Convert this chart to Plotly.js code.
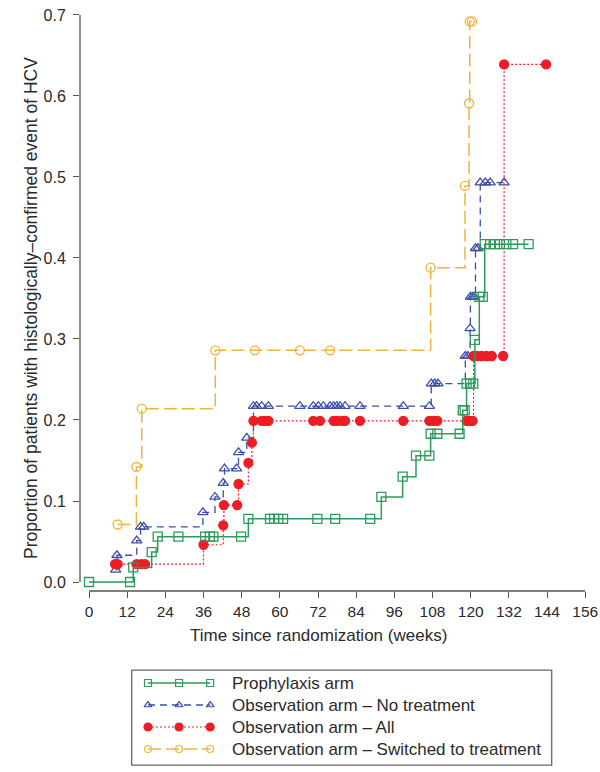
<!DOCTYPE html>
<html>
<head>
<meta charset="utf-8">
<script src="https://cdn.plot.ly/plotly-3.0.1.min.js"></script>
<style>html,body{margin:0;padding:0;background:#fff}</style>
</head>
<body>
<div id="chart" style="width:600px;height:772px"></div>
<script>
// cumulative proportion with histologically-confirmed HCV event, by weeks since randomization
const prophWeeks = [0, 12.9, 13.9, 19.7, 21.6, 28.1, 36.5, 38.0, 39.1, 47.8, 50.1, 56.9, 58.2, 59.5, 61.0,
  71.8, 77.4, 88.4, 91.9, 98.6, 102.8, 107.0, 107.4, 109.5, 116.5, 117.5, 118.1, 118.7, 119.8, 120.8,
  121.3, 122.7, 123.8, 124.4, 126.1, 127.6, 129.2, 131.2, 133.3, 138.2]
const prophProp = [0, 0, 0.018, 0.037, 0.056, 0.056, 0.056, 0.056, 0.056, 0.056, 0.078, 0.078, 0.078, 0.078, 0.078,
  0.078, 0.078, 0.078, 0.105, 0.130, 0.156, 0.156, 0.183, 0.183, 0.183, 0.212, 0.212, 0.245, 0.245, 0.245,
  0.299, 0.352, 0.352, 0.417, 0.417, 0.417, 0.417, 0.417, 0.417, 0.417]

const noTxWeeks = [8.4, 8.8, 15.0, 16.2, 17.2, 35.8, 39.6, 42.2, 42.6, 46.4, 47.0, 49.6, 51.7, 52.7, 54.3, 56.4,
  66.3, 70.5, 72.1, 73.7, 75.8, 76.9, 77.9, 78.9, 80.5, 85.2, 98.8, 107.0, 107.6, 108.7, 109.7,
  118.3, 119.1, 119.8, 119.9, 120.6, 121.2, 121.5, 122.3, 123.0, 124.6, 126.1, 130.5]
const noTxProp = [0.015, 0.033, 0.051, 0.068, 0.068, 0.086, 0.105, 0.122, 0.140, 0.140, 0.160, 0.178, 0.217, 0.217, 0.217, 0.217,
  0.217, 0.217, 0.217, 0.217, 0.217, 0.217, 0.217, 0.217, 0.217, 0.217, 0.217, 0.217, 0.245, 0.245, 0.245,
  0.279, 0.279, 0.313, 0.352, 0.352, 0.352, 0.412, 0.412, 0.493, 0.493, 0.493, 0.493]

const allWeeks = [8.2, 9.0, 15.0, 16.5, 17.6, 36.0, 42.2, 42.4, 46.6, 47.0, 50.1, 51.2, 51.7, 54.3, 55.4, 56.4,
  70.5, 72.6, 76.9, 77.9, 79.5, 80.5, 85.2, 98.8, 107.0, 108.3, 109.5, 118.7, 119.8, 120.6,
  120.9, 121.9, 123.4, 125.0, 126.6, 130.2, 130.5, 143.7]
const allProp = [0.022, 0.022, 0.022, 0.022, 0.022, 0.046, 0.070, 0.095, 0.095, 0.121, 0.147, 0.172, 0.199, 0.199, 0.199, 0.199,
  0.199, 0.199, 0.199, 0.199, 0.199, 0.199, 0.199, 0.199, 0.199, 0.199, 0.199, 0.199, 0.199, 0.199,
  0.279, 0.279, 0.279, 0.279, 0.279, 0.279, 0.639, 0.639]

const switchWeeks = [9.0, 14.9, 16.6, 39.7, 52.2, 66.3, 75.8, 107.4, 118.2, 119.5, 119.7, 120.4]
const switchProp = [0.071, 0.142, 0.214, 0.286, 0.286, 0.286, 0.286, 0.388, 0.489, 0.591, 0.692, 0.692]

const seriesNames = [
  'Prophylaxis arm',
  'Observation arm \u2013 No treatment',
  'Observation arm \u2013 All',
  'Observation arm \u2013 Switched to treatment'
]
const xTicks = [0, 12, 24, 36, 48, 60, 72, 84, 96, 108, 120, 132, 144, 156]
const yTicks = [0, 0.1, 0.2, 0.3, 0.4, 0.5, 0.6, 0.7]
const xTitle = 'Time since randomization (weeks)'
const yTitle = 'Proportion of patients with histologically\u2013confirmed event of HCV'

const FONT = 'Liberation Sans, Arial, sans-serif'
const AXIS_COLOR = '#555'
const TEXT_COLOR = '#2a2a2a'

const styles = [
  {color: '#2f9a5b', dash: 'solid', width: 1.5, symbol: 'square-open', size: 9, legendSize: 7},
  {color: '#3b4fa8', dash: '7px,5px', width: 1.3, symbol: 'triangle-up-open', size: 9, legendSize: 7},
  {color: '#ee1c25', dash: '2px,2px', width: 1.2, symbol: 'circle', size: 9, legendSize: 8},
  {color: '#f0b43a', dash: '13px,5px', width: 1.5, symbol: 'circle-open', size: 9, legendSize: 7}
]
const seriesData = [
  [prophWeeks, prophProp],
  [noTxWeeks, noTxProp],
  [allWeeks, allProp],
  [switchWeeks, switchProp]
]

const stepTrace = (i) => {
  const s = styles[i]
  return {
    x: seriesData[i][0],
    y: seriesData[i][1],
    name: seriesNames[i],
    type: 'scatter',
    mode: 'lines+markers',
    line: {shape: 'hv', color: s.color, dash: s.dash, width: s.width},
    marker: {symbol: s.symbol, size: s.size, color: s.color, line: {color: s.color, width: 1.3}},
    hoverinfo: 'x+y+name'
  }
}

// legend built on a small hidden axis pair below the plot
const legendRows = [0.875, 0.625, 0.375, 0.125]
const legendSampleX = [0, 1, 2]
const legendTrace = (i) => {
  const s = styles[i]
  return {
    x: legendSampleX,
    y: legendSampleX.map(() => legendRows[i]),
    xaxis: 'x2',
    yaxis: 'y2',
    type: 'scatter',
    mode: 'lines+markers',
    cliponaxis: false,
    line: {color: s.color, dash: s.dash, width: s.width},
    marker: {symbol: s.symbol, size: s.legendSize, color: s.color, line: {color: s.color, width: 1.2}},
    hoverinfo: 'skip'
  }
}

const drawOrder = [3, 1, 2, 0]
const data = drawOrder.map(stepTrace).concat([0, 1, 2, 3].map(legendTrace))

const annotations = seriesNames.map((name, i) => ({
  text: name,
  xref: 'x2',
  yref: 'y2',
  x: 2.65,
  y: legendRows[i],
  xanchor: 'left',
  yanchor: 'middle',
  showarrow: false,
  font: {family: FONT, size: 17, color: TEXT_COLOR}
}))
// axis titles as annotations so they sit where the original puts them
annotations.push({
  text: xTitle, xref: 'paper', yref: 'paper', x: 0.467, y: 0.175,
  xanchor: 'center', yanchor: 'middle', showarrow: false,
  font: {family: FONT, size: 17, color: TEXT_COLOR}
})
annotations.push({
  text: yTitle, xref: 'paper', yref: 'paper', x: -0.096, y: 0.6053, textangle: -90,
  xanchor: 'center', yanchor: 'middle', showarrow: false,
  font: {family: FONT, size: 17.5, color: TEXT_COLOR}
})

const shapes = [
  // R-style axis lines spanning only the tick range
  {type: 'line', xref: 'x', yref: 'y domain', x0: xTicks[0], x1: xTicks[xTicks.length - 1], y0: 0, y1: 0,
    line: {color: AXIS_COLOR, width: 1.3}},
  {type: 'line', xref: 'x domain', yref: 'y', x0: 0, x1: 0, y0: yTicks[0], y1: yTicks[yTicks.length - 1],
    line: {color: AXIS_COLOR, width: 1.3}},
  // legend frame
  {type: 'rect', xref: 'paper', yref: 'paper', x0: 0.1014, x1: 0.9249, y0: 0.0039, y1: 0.1289,
    line: {color: '#666', width: 1.3}, fillcolor: 'rgba(0,0,0,0)'}
]

const layout = {
  width: 600,
  height: 772,
  margin: {l: 80, r: 10, t: 8, b: 4},
  paper_bgcolor: '#fff',
  plot_bgcolor: '#fff',
  showlegend: false,
  font: {family: FONT, color: TEXT_COLOR},
  xaxis: {
    domain: [0, 1],
    anchor: 'y',
    range: [-2.83, 157.5],
    tickvals: xTicks,
    ticks: 'outside',
    ticklen: 6,
    tickwidth: 1.3,
    tickcolor: AXIS_COLOR,
    showline: false,
    showgrid: false,
    zeroline: false,
    tickfont: {family: FONT, size: 15.5, color: TEXT_COLOR},
    automargin: false
  },
  yaxis: {
    domain: [0.2329, 1],
    anchor: 'x',
    range: [-0.0111, 0.7086],
    tickvals: yTicks,
    tickformat: '.1f',
    ticks: 'outside',
    ticklen: 6,
    tickwidth: 1.3,
    tickcolor: AXIS_COLOR,
    ticklabelstandoff: 4,
    showline: false,
    showgrid: false,
    zeroline: false,
    tickfont: {family: FONT, size: 16, color: TEXT_COLOR},
    automargin: false
  },
  // 148px -> 0, 31px per unit
  xaxis2: {domain: [0.1176, 0.9412], range: [-0.258, 13.26], anchor: 'y2', visible: false, fixedrange: true},
  yaxis2: {domain: [0.0105, 0.1263], range: [0, 1], anchor: 'x2', visible: false, fixedrange: true},
  annotations,
  shapes
}

Plotly.newPlot('chart', data, layout, {displayModeBar: false, responsive: false})
</script>
</body>
</html>
